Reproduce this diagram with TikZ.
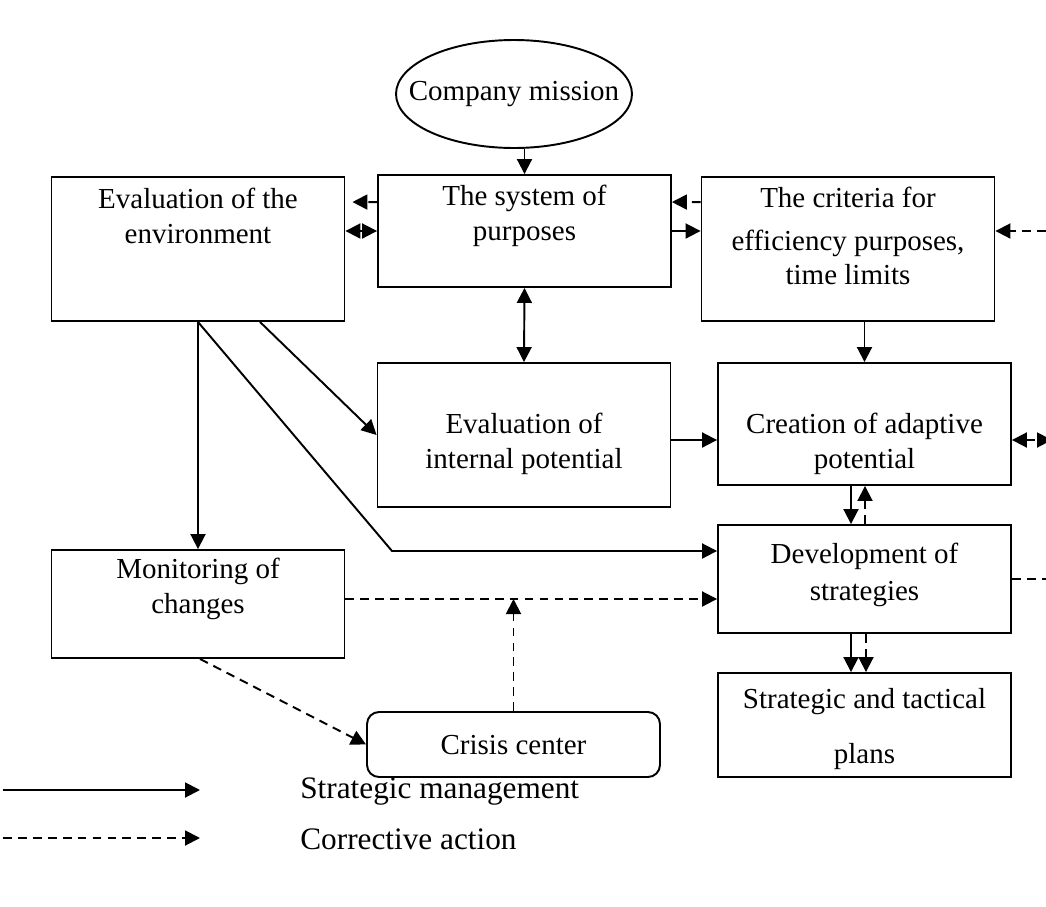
\documentclass[tikz,border=0pt]{standalone}
\usepackage{fontspec}
\setmainfont{Liberation Serif}
\usepackage{tikz}
\usetikzlibrary{arrows.meta, positioning, shapes.geometric, calc}

\tikzset{
  box/.style={draw, line width=1.1pt, inner sep=0pt, minimum width=5.86cm},
  txt/.style={align=center, inner sep=0pt, font=\fontsize{16.5}{19.8}\selectfont},
  main/.style={line width=1.1pt, -{Triangle[length=0.3cm, width=0.3cm]}},
  both/.style={main, {Triangle[length=0.3cm, width=0.3cm]}-{Triangle[length=0.3cm, width=0.3cm]}},
  corr/.style={main, dash pattern=on 5pt off 3.5pt},
  corrboth/.style={both, dash pattern=on 5pt off 3.5pt}
}

\begin{document}
\begin{tikzpicture}[x=0.02cm, y=-0.02cm]
  \useasboundingbox (0,0) rectangle (1046,907);

  % boxes
  \node[draw, ellipse, line width=1.1pt, minimum width=4.72cm, minimum height=2.16cm] (mission) at (514,94) {};
  \node[box, minimum height=2.88cm] (env) at (198,249) {};
  \node[box, minimum height=2.24cm] (sys) at (524.5,231) {};
  \node[box, minimum height=2.88cm] (crit) at (848,249) {};
  \node[box, minimum height=2.88cm] (inner) at (524,435) {};
  \node[box, minimum height=2.44cm] (create) at (864.5,424) {};
  \node[box, minimum height=2.16cm] (dev) at (864.5,579) {};
  \node[box, minimum height=2.08cm] (plans) at (864.5,725) {};
  \node[box, minimum height=2.16cm] (monitor) at (198,604) {};
  \node[box, rounded corners=0.24cm, minimum height=1.3cm] (crisis) at (513.5,744.5) {};

  % texts
  \node[txt] (missiontxt) at (514,94) {Company mission};
  \node[txt] (envtxt) at (198,216) {Evaluation of the\\environment};
  \node[txt] (systxt) at (524.5,216) {The system of\\purposes};
  \node[txt] (crittxt) at (848,236) {The criteria for\\[4.6pt]efficiency purposes,\\time limits};
  \node[txt] (innertxt) at (524,444) {Evaluation of\\internal potential};
  \node[txt] (createtxt) at (864.5,444) {Creation of adaptive\\potential};
  \node[txt] (devtxt) at (864.5,575) {Development of\\[1.7pt]strategies};
  \node[txt] (planstxt) at (864.5,729) {Strategic and tactical\\[11pt]plans};
  \node[txt] (monitortxt) at (198,589) {Monitoring of\\changes};
  \node[txt] (crisistxt) at (513.5,745) {Crisis center};

  % free ends at the right edge
  \coordinate (edgeA) at (1046,231);
  \coordinate (edgeB) at (1052,440);
  \coordinate (edgeC) at (1052,579);
  \coordinate (bend) at (392,551);

  % strategic management
  \draw[main] (sys.north |- mission.south) -- (sys.north);
  \draw[both] (env.east |- sys.west) -- (sys.west);
  \draw[main] (sys.east) -- (sys.east -| crit.west);
  \draw[both] (sys.south) -- (inner.north);
  \draw[main] (create.north |- crit.south) -- (create.north);
  \draw[main] ([yshift=-0.1cm]inner.east) -- ([yshift=-0.1cm]inner.east -| create.west);
  \draw[main] ([xshift=-0.27cm]create.south) -- ([xshift=-0.27cm]dev.north);
  \draw[main] ([xshift=-0.27cm]dev.south) -- ([xshift=-0.27cm]plans.north);
  \draw[main] (env.south) -- (monitor.north);
  \draw[main] (env.south) -- (bend) -- (bend -| dev.west);
  \draw[main] ([xshift=1.24cm]env.south) -- (inner.west);

  % corrective action
  \draw[corr, shorten >=0.14cm] ([yshift=-0.56cm]sys.north west) -- ([yshift=-0.52cm]env.north east);
  \draw[corr] ([yshift=-0.52cm]crit.north west) -- ([yshift=-0.56cm]sys.north east);
  \draw[corr] (edgeA) -- (crit.east |- edgeA);
  \draw[corrboth] (create.east |- edgeB) -- (edgeB);
  \draw[corr] ([xshift=0.01cm]dev.north) -- ([xshift=0.01cm]create.south);
  \draw[corr] ([xshift=0.03cm]dev.south) -- ([xshift=0.03cm]plans.north);
  \draw[corr, -] (dev.east) -- (edgeC);
  \draw[corr] ([yshift=0.1cm]monitor.east) -- ([yshift=0.1cm]monitor.east -| dev.west);
  \draw[corr] ([xshift=0.04cm]monitor.south) -- (crisis.west);
  \draw[corr] (crisis.north) -- ([yshift=0.1cm]crisis.north |- monitor.east);

  % legend
  \coordinate (lgA) at (3,790);
  \coordinate (lgB) at (200,790);
  \coordinate (lgC) at (3,838);
  \coordinate (lgD) at (200,838);
  \draw[main] (lgA) -- (lgB);
  \draw[corr] (lgC) -- (lgD);
  \node[txt, anchor=west, font=\fontsize{17.8}{21}\selectfont] (lgmain) at (300,792) {Strategic management};
  \node[txt, anchor=west, font=\fontsize{17.8}{21}\selectfont] (lgcorr) at (300,839) {Corrective action};
\end{tikzpicture}
\end{document}
